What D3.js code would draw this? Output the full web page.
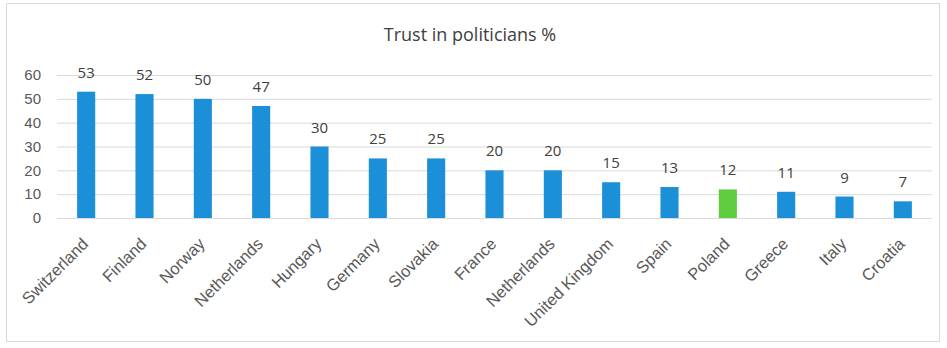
<!DOCTYPE html>
<html>
<head>
<meta charset="utf-8">
<script src="https://cdn.jsdelivr.net/npm/d3@7"></script>
<style>
  body { margin: 0; background: #fff; }
  svg { display: block; font-family: "Open Sans", "Noto Sans", sans-serif; }
</style>
</head>
<body>
<svg id="chart" width="947" height="348"></svg>
<script>
// Survey results: share of respondents who trust politicians, by country
const countries = ["Switzerland", "Finland", "Norway", "Netherlands", "Hungary", "Germany",
  "Slovakia", "France", "Netherlands ", "United Kingdom", "Spain", "Poland", "Greece", "Italy", "Croatia"];
const trust = [53, 52, 50, 47, 30, 25, 25, 20, 20, 15, 13, 12, 11, 9, 7];
const highlighted = ["Poland"];
const yTicks = [0, 10, 20, 30, 40, 50, 60];
const title = "Trust in politicians %";

const svg = d3.select("#chart");
const W = 947, H = 348;
const margin = { left: 57, right: 15, top: 75, bottom: 130 };

// chart frame
svg.append("rect")
  .attr("x", 6.5).attr("y", 3.5)
  .attr("width", 933).attr("height", 338)
  .attr("fill", "#fff").attr("stroke", "#d9d9d9").attr("stroke-width", 1);

const x = d3.scaleBand()
  .domain(countries)
  .range([margin.left, W - margin.right])
  .paddingInner(0.69).paddingOuter(0.345);

const y = d3.scaleLinear()
  .domain([0, 60])
  .range([H - margin.bottom, margin.top]);

// title
svg.append("text")
  .attr("x", 470).attr("y", 41)
  .attr("text-anchor", "middle")
  .attr("font-size", 18)
  .attr("fill", "#404040")
  .text(title);

// gridlines + y labels
const yAxis = d3.axisLeft(y).tickValues(yTicks).tickSize(-(W - margin.right - margin.left)).tickPadding(16);
const gy = svg.append("g").attr("transform", `translate(${margin.left},0)`).call(yAxis);
gy.select(".domain").remove();
gy.selectAll(".tick line").attr("stroke", "#d9d9d9");
gy.selectAll(".tick text").attr("font-size", 15).attr("fill", "#595959");

// bars
svg.append("g").selectAll("rect")
  .data(countries)
  .join("rect")
  .attr("x", d => x(d))
  .attr("width", x.bandwidth())
  .attr("y", (d, i) => y(trust[i]))
  .attr("height", (d, i) => y(0) - y(trust[i]))
  .attr("fill", d => highlighted.includes(d) ? "#5fcb3e" : "#1b8fd8");

// baseline
svg.append("line")
  .attr("x1", margin.left).attr("x2", W - margin.right)
  .attr("y1", y(0) + 0.5).attr("y2", y(0) + 0.5)
  .attr("stroke", "#d9d9d9");

// value labels
svg.append("g").selectAll("text")
  .data(countries)
  .join("text")
  .attr("x", d => x(d) + x.bandwidth() / 2)
  .attr("y", (d, i) => y(trust[i]) - 14)
  .attr("text-anchor", "middle")
  .attr("font-size", 15)
  .attr("fill", "#404040")
  .text((d, i) => trust[i]);

// x labels, rotated
const xAxis = d3.axisBottom(x).tickSize(0).tickPadding(0);
const gx = svg.append("g").attr("transform", `translate(0,${y(0)})`).call(xAxis);
gx.select(".domain").remove();
gx.selectAll(".tick text")
  .attr("font-size", 16.5)
  .attr("fill", "#595959")
  .attr("text-anchor", "end")
  .attr("dy", null)
  .attr("transform", "translate(3,27) rotate(-45)")
  .text(d => d.trim());
</script>
</body>
</html>
